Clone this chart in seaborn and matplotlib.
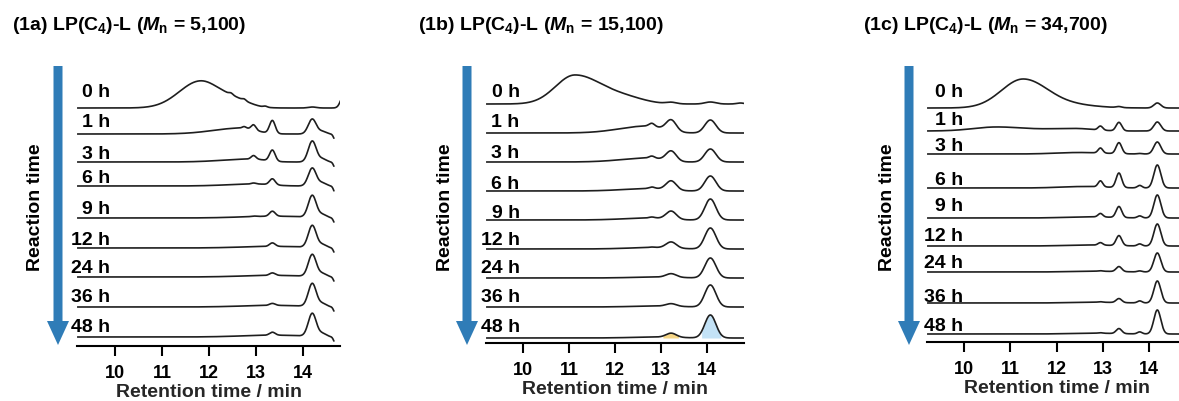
import numpy as np
import pandas as pd
import matplotlib
matplotlib.use('Agg')
import matplotlib.pyplot as plt
import seaborn as sns
from matplotlib.patches import FancyArrow

sns.set_theme(style='white')
plt.rcParams['font.family'] = ['Liberation Sans', 'DejaVu Sans']
plt.rcParams['font.weight'] = 'bold'
plt.rcParams['mathtext.fontset'] = 'custom'
plt.rcParams['mathtext.rm'] = 'Liberation Sans:bold'
plt.rcParams['mathtext.it'] = 'Liberation Sans:bold:italic'
plt.rcParams['mathtext.bf'] = 'Liberation Sans:bold'

# ---- data (heights in px above each trace's baseline) ----
times = ['0 h', '1 h', '3 h', '6 h', '9 h', '12 h', '24 h', '36 h', '48 h']
ticks = [10, 11, 12, 13, 14]

titles = [r'(1a) LP(C$_4$)-L ($M_\mathrm{n}$ = 5,100)',
          r'(1b) LP(C$_4$)-L ($M_\mathrm{n}$ = 15,100)',
          r'(1c) LP(C$_4$)-L ($M_\mathrm{n}$ = 34,700)']

# broad polymer humps: (centre, height, sigma left, sigma right)
a_humps = [[(11.82, 27, 0.45, 0.42), (12.6, 6, 0.3, 0.3)],
           [(12.7, 6, 0.6, 0.3)],
           [(12.9, 3, 0.6, 0.3)],
           [(13.0, 2, 0.6, 0.35)],
           [(13.4, 1.8, 0.7, 0.6)],
           [(13.4, 1.6, 0.7, 0.6)],
           [(13.4, 1.6, 0.7, 0.6)],
           [(13.4, 1.6, 0.7, 0.6)],
           [(13.4, 1.8, 0.7, 0.6)]]
a_rt = [12.47, 12.75, 12.95, 13.2, 13.35, 14.2, 14.42, 14.70, 14.88]
a_sd = [0.04, 0.04, 0.05, 0.04, 0.06, 0.085, 0.08, 0.04, 0.07]
a_h = [[1.5, 1.5, 0, 1, 0, 1, 0, 0, 14],
       [0, 1.5, 5, 0, 13, 15, 2.5, -7, 0],
       [0, 0, 3.5, 0, 11, 21, 3, -7, 0],
       [0, 0, 1, 0, 6, 18, 3, -8, 0],
       [0, 0, 0.5, 0, 5, 22, 3, -7, 0],
       [0, 0, 0, 0, 3.5, 22, 3, -7, 0],
       [0, 0, 0, 0, 2.5, 22, 3, -7, 0],
       [0, 0, 0, 0, 2, 23, 3, -7, 0],
       [0, 0, 0, 0, 3, 23, 3, -7, 0]]
a_end = [14.8, 14.66, 14.66, 14.66, 14.66, 14.66, 14.66, 14.66, 14.66]

b_humps = [[(11.13, 29, 0.42, 0.62), (12.3, 4, 0.4, 0.4)],
           [(12.7, 7, 0.6, 0.35)],
           [(12.75, 4, 0.6, 0.3)],
           [(12.8, 2.5, 0.6, 0.35)],
           [(12.8, 2, 0.6, 0.35)],
           [(12.9, 1.5, 0.6, 0.4)],
           [(13.0, 1, 0.6, 0.4)],
           [(13.0, 1, 0.6, 0.4)],
           [(13.0, 1, 0.6, 0.4)]]
b_rt = [12.8, 13.22, 14.07, 14.72]
b_sd = [0.06, 0.11, 0.12, 0.08]
b_h = [[0, 1.5, 2, 1],
       [3, 11, 13, 0],
       [2, 10, 13, 0],
       [1.5, 9, 15, 0],
       [1, 8, 21, 0],
       [0.5, 6, 21, 0],
       [0, 3.5, 20, 0],
       [0, 2.5, 22, 0],
       [0, 4, 23, 0]]
b_end = [14.8] * 9

c_humps = [[(11.28, 29, 0.47, 0.55), (12.5, 2, 0.4, 0.5)],
           [(10.7, 4, 0.5, 0.6), (12.4, 2.5, 0.6, 0.4)],
           [(12.5, 1.5, 0.5, 0.5)],
           [(12.6, 1.5, 0.5, 0.5)],
           [(12.7, 1.2, 0.5, 0.5)],
           [(12.7, 1, 0.5, 0.5)],
           [(12.8, 0.8, 0.5, 0.5)],
           [(12.8, 0.8, 0.5, 0.5)],
           [(12.8, 0.8, 0.5, 0.5)]]
c_rt = [12.95, 13.35, 13.8, 14.18]
c_sd = [0.05, 0.06, 0.05, 0.075]
c_h = [[0, 1, 0, 5],
       [4, 8.5, 0, 9],
       [5, 11, 0.5, 12],
       [6, 14.5, 2.5, 23],
       [3.5, 11, 2, 23],
       [2.5, 10, 2, 22],
       [0.5, 5, 1, 19],
       [0.5, 4, 2, 22],
       [0.5, 5, 2, 24]]
c_end = [14.8] * 9

# ---- layout (pixels) ----
W, H = 1179, 401
panels = [
    dict(humps=a_humps, rt=a_rt, sd=a_sd, h=a_h, end=a_end, x0=77, x1=340, xlim=(9.19, 14.79),
         axis_y=346, base=[238, 212, 184, 160, 128, 98, 69, 39, 9],
         lab=[249, 219, 187, 163, 132, 101, 73, 44, 14], lab_x=9.9,
         arrow_x=58, rt_x=36, title_x=12),
    dict(humps=b_humps, rt=b_rt, sd=b_sd, h=b_h, end=b_end, x0=486, x1=744, xlim=(9.2, 14.8),
         axis_y=343, base=[239, 210, 181, 152, 123, 94, 65, 36, 5],
         lab=[246, 216, 185, 154, 125, 98, 70, 41, 11], lab_x=9.93,
         arrow_x=467, rt_x=445, title_x=418),
    dict(humps=c_humps, rt=c_rt, sd=c_sd, h=c_h, end=c_end, x0=927, x1=1186, xlim=(9.2, 14.8),
         axis_y=342, base=[234, 211, 188, 154, 124, 96, 70, 39, 8],
         lab=[245, 217, 191, 157, 131, 101, 74, 40, 11], lab_x=9.98,
         arrow_x=909, rt_x=888, title_x=863),
]
top_y = 40
line_col = '#1e1e1e'


def signal(x, humps, rt, sd, h):
    y = np.zeros_like(x)
    for c, amp, sl, sr in humps:
        s = np.where(x < c, sl, sr)
        y += amp * np.exp(-0.5 * ((x - c) / s) ** 2)
    for c, s, amp in zip(rt, sd, h):
        y += amp * np.exp(-0.5 * ((x - c) / s) ** 2)
    return y


fig = plt.figure(figsize=(W / 100, H / 100), dpi=100)

ov = fig.add_axes([0, 0, 1, 1])
ov.set_xlim(0, W)
ov.set_ylim(H, 0)
ov.axis('off')
ov.set_zorder(0)

for k, p in enumerate(panels):
    ax = fig.add_axes([p['x0'] / W, 1 - p['axis_y'] / H,
                       (p['x1'] - p['x0']) / W, (p['axis_y'] - top_y) / H])
    ax.set_zorder(1)
    ax.set_facecolor('none')
    rows = []
    for i, t in enumerate(times):
        x = np.linspace(p['xlim'][0] + 0.01, p['end'][i], 700)
        y = signal(x, p['humps'][i], p['rt'], p['sd'], p['h'][i]) + p['base'][i]
        rows.append(pd.DataFrame({'rt': x, 'y': y, 'trace': t}))
        if k == 1 and i == len(times) - 1:
            ax.fill_between(x, p['base'][i], y, where=(x > 13.04) & (x < 13.38),
                            color='#f6d686', lw=0, zorder=1)
            ax.fill_between(x, p['base'][i], y, where=(x > 13.88) & (x < 14.3),
                            color='#c3e2f6', lw=0, zorder=1)
        ax.text(p['lab_x'], p['lab'][i], t, ha='right', va='baseline',
                fontsize=14, fontweight='bold', color='black', clip_on=False)
    df = pd.concat(rows, ignore_index=True)
    sns.lineplot(data=df, x='rt', y='y', units='trace', estimator=None,
                 color=line_col, lw=1.2, ax=ax, legend=False, zorder=2)

    ax.set_xlim(*p['xlim'])
    ax.set_ylim(0, p['axis_y'] - top_y)
    ax.set_yticks([])
    ax.set_ylabel('')
    ax.set_xticks(ticks)
    ax.set_xticklabels([str(v) for v in ticks])
    for s in ['left', 'top', 'right']:
        ax.spines[s].set_visible(False)
    ax.spines['bottom'].set_color('black')
    ax.spines['bottom'].set_linewidth(1.5)
    ax.tick_params(axis='x', direction='out', length=7, width=1.5, pad=7,
                   labelsize=13, colors='black', bottom=True)
    ax.set_xlabel('Retention time / min', fontsize=14, fontweight='bold', labelpad=1)

    ov.add_patch(FancyArrow(p['arrow_x'], 66, 0, 279, width=9, head_width=22,
                            head_length=24, length_includes_head=True,
                            color='#2f7cb7', lw=0))
    ov.text(p['rt_x'], 207, 'Reaction time', rotation=90, ha='center', va='center',
            fontsize=14, fontweight='bold', color='black')
    ov.text(p['title_x'], 25, titles[k], ha='left', va='center', fontsize=14,
            fontweight='bold', color='black')

fig.savefig('out.png', dpi=100)
